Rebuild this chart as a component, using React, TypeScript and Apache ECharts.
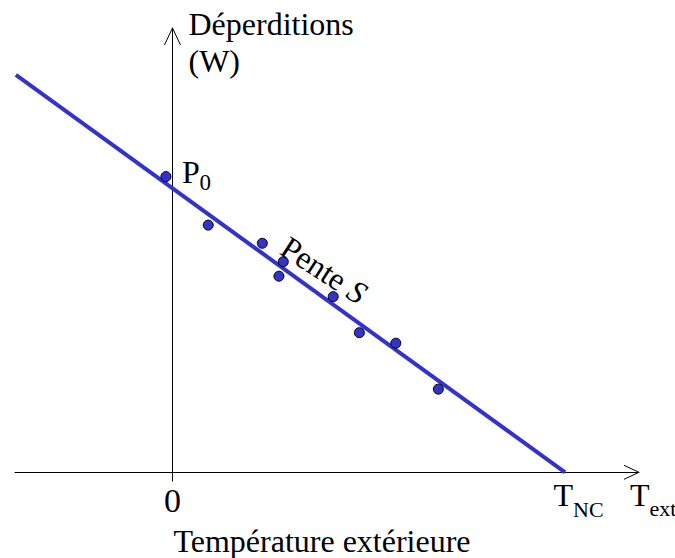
import React, { useEffect, useRef } from "react";
import * as echarts from "echarts";

// Axis ranges (temperature in arbitrary units, losses in W)
const X_MIN = -7.22;
const X_MAX = 21.39;
const Y_MIN = -30.66;
const Y_MAX = 1565.6;

// Key values
const T_NC = 18; // non-heating temperature
const P0 = 1000; // losses at 0 °C

// Regression line
const lineX = [-7.18, 18];
const lineY = [1400, 0];

// Measured points
const pointX = [-0.3, 1.64, 4.12, 5.08, 4.88, 7.37, 8.57, 10.24, 12.19];
const pointY = [1042, 871, 807, 742, 691, 619, 492, 455, 293];

// Labels
const yName = ["Déperditions", "(W)"];
const xTitle = "Température extérieure";
const slopeLabel = ["Pente ", "S"];

const FONT = "Liberation Serif";
const BLUE = "#3333cc";

// Grid layout (pixels)
const GRID = { left: 15, right: 36, top: 28, bottom: 77 };
const W = 675;
const H = 558;

export default function App() {
  const ref = useRef<HTMLDivElement>(null);

  useEffect(() => {
    if (!ref.current) return;
    const chart = echarts.init(ref.current, null, { renderer: "svg" });

    const pxPerX = (W - GRID.left - GRID.right) / (X_MAX - X_MIN);
    const pxPerY = (H - GRID.top - GRID.bottom) / (Y_MAX - Y_MIN);

    // open arrowheads (sizes in pixels converted to data units)
    const xArrow = [
      [X_MAX - 15 / pxPerX, 7 / pxPerY],
      [X_MAX, 0],
      [X_MAX - 15 / pxPerX, -7 / pxPerY],
    ];
    const yArrow = [
      [-8 / pxPerX, Y_MAX - 17 / pxPerY],
      [0, Y_MAX],
      [8 / pxPerX, Y_MAX - 17 / pxPerY],
    ];

    const axisCommon = {
      type: "value" as const,
      axisLine: { show: true, onZero: true, lineStyle: { color: "#000", width: 1 } },
      axisTick: { show: false },
      axisLabel: { show: false },
      splitLine: { show: false },
    };

    chart.setOption({
      animation: false,
      textStyle: { fontFamily: FONT },
      grid: { ...GRID, containLabel: false },
      xAxis: { ...axisCommon, min: X_MIN, max: X_MAX },
      yAxis: { ...axisCommon, min: Y_MIN, max: Y_MAX },
      series: [
        {
          type: "line",
          data: xArrow,
          symbol: "none",
          lineStyle: { color: "#000", width: 1 },
          z: 1,
        },
        {
          type: "line",
          data: yArrow,
          symbol: "none",
          lineStyle: { color: "#000", width: 1 },
          z: 1,
        },
        {
          type: "line",
          data: lineX.map((x, i) => [x, lineY[i]]),
          symbol: "none",
          lineStyle: { color: BLUE, width: 4, cap: "butt" },
          z: 2,
        },
        {
          type: "scatter",
          data: pointX.map((x, i) => [x, pointY[i]]),
          symbol: "circle",
          symbolSize: 10,
          itemStyle: { color: BLUE, borderColor: "#000", borderWidth: 1, opacity: 1 },
          z: 3,
        },
      ],
    });

    const px = (x: number, y: number) =>
      chart.convertToPixel({ xAxisIndex: 0, yAxisIndex: 0 }, [x, y]) as number[];
    const yTop = px(0, Y_MAX);
    const origin = px(0, 0);
    const tnc = px(T_NC, 0);
    const xEnd = px(X_MAX, 0);
    const p0 = px(0, P0);

    const txt = (
      text: string,
      x: number,
      y: number,
      fontSize: number,
      align: string = "left",
      extra: any = {}
    ) => ({
      type: "text",
      x,
      y,
      silent: true,
      z: 10,
      style: {
        text,
        fontFamily: FONT,
        fontSize,
        fill: "#000",
        align,
        verticalAlign: "middle",
        ...extra,
      },
    });

    chart.setOption({
      graphic: [
        txt(yName[0], yTop[0] + 16, yTop[1] - 4.5, 32),
        txt(yName[1], yTop[0] + 16, yTop[1] + 33, 32),
        txt("P", p0[0] + 9.5, p0[1] - 17, 32),
        txt("0", p0[0] + 27, p0[1] - 6.3, 23),
        txt("0", origin[0], origin[1] + 28, 34, "center"),
        txt("T", tnc[0] - 11.5, tnc[1] + 23, 32),
        txt("NC", tnc[0] + 8, tnc[1] + 37, 22),
        txt("T", xEnd[0] - 9, xEnd[1] + 23, 32),
        txt("ext", xEnd[0] + 10.5, xEnd[1] + 36, 22),
        txt(xTitle, 322, 541, 32, "center"),
        {
          type: "text",
          x: 324,
          y: 270,
          rotation: (-33 * Math.PI) / 180,
          silent: true,
          z: 10,
          style: {
            text: `{a|${slopeLabel[0]}}{b|${slopeLabel[1]}}`,
            align: "center",
            verticalAlign: "middle",
            fill: "#000",
            fontFamily: FONT,
            fontSize: 32,
            rich: {
              a: { fontFamily: FONT, fontSize: 32, fill: "#000", color: "#000" },
              b: { fontFamily: FONT, fontSize: 32, fontStyle: "italic", fill: "#000", color: "#000" },
            },
          },
        },
      ],
    });

    return () => chart.dispose();
  }, []);

  return (
    <div
      ref={ref}
      style={{ position: "fixed", left: 0, top: 0, width: W, height: H, background: "#fff" }}
    />
  );
}
